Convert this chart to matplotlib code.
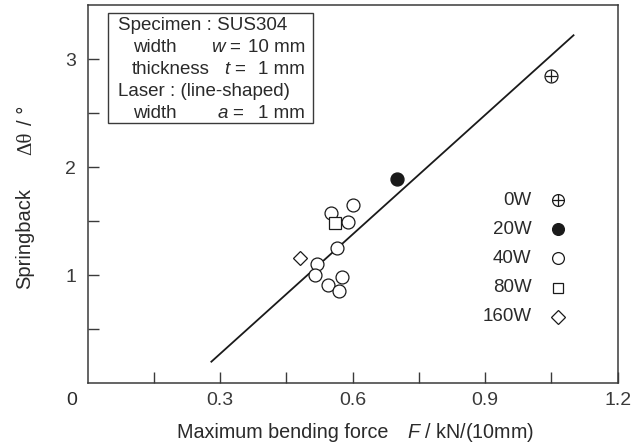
"""Springback against maximum bending force for laser-assisted bending of SUS304."""

import matplotlib

matplotlib.use("Agg")
import matplotlib.pyplot as plt
from matplotlib.patches import Rectangle

plt.rcParams.update(
    {"font.family": "Liberation Sans", "font.size": 13.5,
     "mathtext.fontset": "custom", "mathtext.rm": "Liberation Sans",
     "mathtext.it": "Liberation Sans:italic",
     "axes.linewidth": 1.1, "axes.edgecolor": "#3a3a3a",
     "text.color": "#2a2a2a", "xtick.color": "#3a3a3a", "ytick.color": "#3a3a3a"}
)

INK = "#1a1a1a"
W, H = 644, 448

# ---- data --------------------------------------------------------------
force_0w = [1.05]
spring_0w = [2.84]
force_20w = [0.70]
spring_20w = [1.89]
force_40w = [0.55, 0.60, 0.59, 0.565, 0.52, 0.515, 0.575, 0.545, 0.57]
spring_40w = [1.58, 1.645, 1.49, 1.25, 1.10, 1.005, 0.985, 0.905, 0.855]
force_80w = [0.56]
spring_80w = [1.485]
force_160w = [0.48]
spring_160w = [1.155]
fit_force = [0.28, 1.10]
fit_spring = [0.20, 3.22]

powers = ["0W", "20W", "40W", "80W", "160W"]
x_major = [0.3, 0.6, 0.9, 1.2]
x_minor = [0.15, 0.45, 0.75, 1.05]
y_major = [1, 2, 3]
y_minor = [0.5, 1.5, 2.5]


def px(x):
    return x / W


def py(y):
    return 1 - y / H


fig = plt.figure(figsize=(W / 100, H / 100), dpi=100)
ax = fig.add_axes([px(87.7), py(383.3), 530 / W, 378.3 / H])

open_kw = dict(ls="none", mfc="white", mec=INK, mew=0.9)
ax.plot(fit_force, fit_spring, color=INK, lw=1.3, zorder=1)
ax.plot(force_40w, spring_40w, marker="o", ms=9.3, **open_kw)
ax.plot(force_80w, spring_80w, marker="s", ms=8, **open_kw)
ax.plot(force_160w, spring_160w, marker="D", ms=7, **open_kw)
ax.plot(force_20w, spring_20w, ls="none", marker="o", ms=9.3, mfc=INK, mec=INK)
ax.plot(force_0w, spring_0w, marker="o", ms=9.3, **open_kw)
ax.plot(force_0w, spring_0w, ls="none", marker="+", ms=9.3, mec=INK, mew=0.9)

ax.set_xlim(0, 1.2)
ax.set_ylim(0, 3.5)
ax.set_xticks(x_major)
ax.set_xticks(x_minor, minor=True)
ax.set_yticks(y_major)
ax.set_yticks(y_minor, minor=True)
ax.set_xticklabels([f"{v:.1f}" for v in x_major])
ax.set_yticklabels([str(v) for v in y_major])
ax.tick_params(which="both", direction="in", length=8, width=1.0,
               top=False, right=False, labelsize=14)
ax.tick_params(axis="x", pad=6.5)
ax.tick_params(axis="y", pad=8.5)
# shared origin label in the corner
fig.text(px(72), py(400), "0", ha="center", va="center", size=14)

# ---- axis titles ---------------------------------------------------------
fig.text(px(177), py(432), "Maximum bending force", ha="left", va="center", size=14.2)
fig.text(px(407), py(432), r"$F$ / kN/(10mm)", ha="left", va="center", size=14.2)
fig.text(px(25), py(238.5), "Springback", rotation=90, ha="center", va="center", size=14.5)
fig.text(px(27), py(143), "Δθ", rotation=90, ha="center", va="center", size=15,
         family="Liberation Serif")
fig.text(px(26), py(115), "/ °", rotation=90, ha="center", va="center", size=14.5)

# ---- specimen box --------------------------------------------------------
def ax_xy(x, y):
    return (x - 87.7) / 530, (383.3 - y) / 378.3


x0, y0 = ax_xy(108, 123.3)
x1, y1 = ax_xy(313, 13.3)
ax.add_patch(Rectangle((x0, y0), x1 - x0, y1 - y0, transform=ax.transAxes,
                       fill=False, ec="#3a3a3a", lw=1.0, zorder=3))
rows = [
    (26, 118, "Specimen : SUS304", None, None),
    (48, 133, "width", r"$w$ =", "10 mm"),
    (70, 131.5, "thickness", r"$t$ =", "1 mm"),
    (92, 118, "Laser : (line-shaped)", None, None),
    (113, 133, "width", r"$a$ =", "1 mm"),
]
eq_right = {r"$w$ =": 242, r"$t$ =": 246.5, r"$a$ =": 245}
for yy, xx, label, eq, val in rows:
    ax.text(*ax_xy(xx, yy), label, transform=ax.transAxes, ha="left", va="center")
    if eq:
        ax.text(*ax_xy(eq_right[eq], yy), eq, transform=ax.transAxes,
                ha="right", va="center")
        ax.text(*ax_xy(305, yy), val, transform=ax.transAxes, ha="right", va="center")

# ---- legend, drawn by hand so labels sit right-aligned ---------------------
legend_styles = [
    dict(marker="o", mfc="white"),
    dict(marker="o", mfc=INK),
    dict(marker="o", mfc="white"),
    dict(marker="s", mfc="white"),
    dict(marker="D", mfc="white"),
]
legend_ms = [8.5, 8.5, 8.5, 7.8, 7.2]
for i, (name, st) in enumerate(zip(powers, legend_styles)):
    yy = 200 + 29.2 * i
    lx, ly = ax_xy(531.5, yy)
    mx, _ = ax_xy(558, yy)
    ax.text(lx, ly, name, transform=ax.transAxes, ha="right", va="center")
    ax.plot([mx], [ly], transform=ax.transAxes, ls="none", mec=INK, mew=0.9,
            ms=legend_ms[i], clip_on=False, **st)
    if i == 0:
        ax.plot([mx], [ly], transform=ax.transAxes, ls="none", marker="+",
                mec=INK, mew=0.9, ms=8.5, clip_on=False)

fig.savefig("out.png", dpi=100)
